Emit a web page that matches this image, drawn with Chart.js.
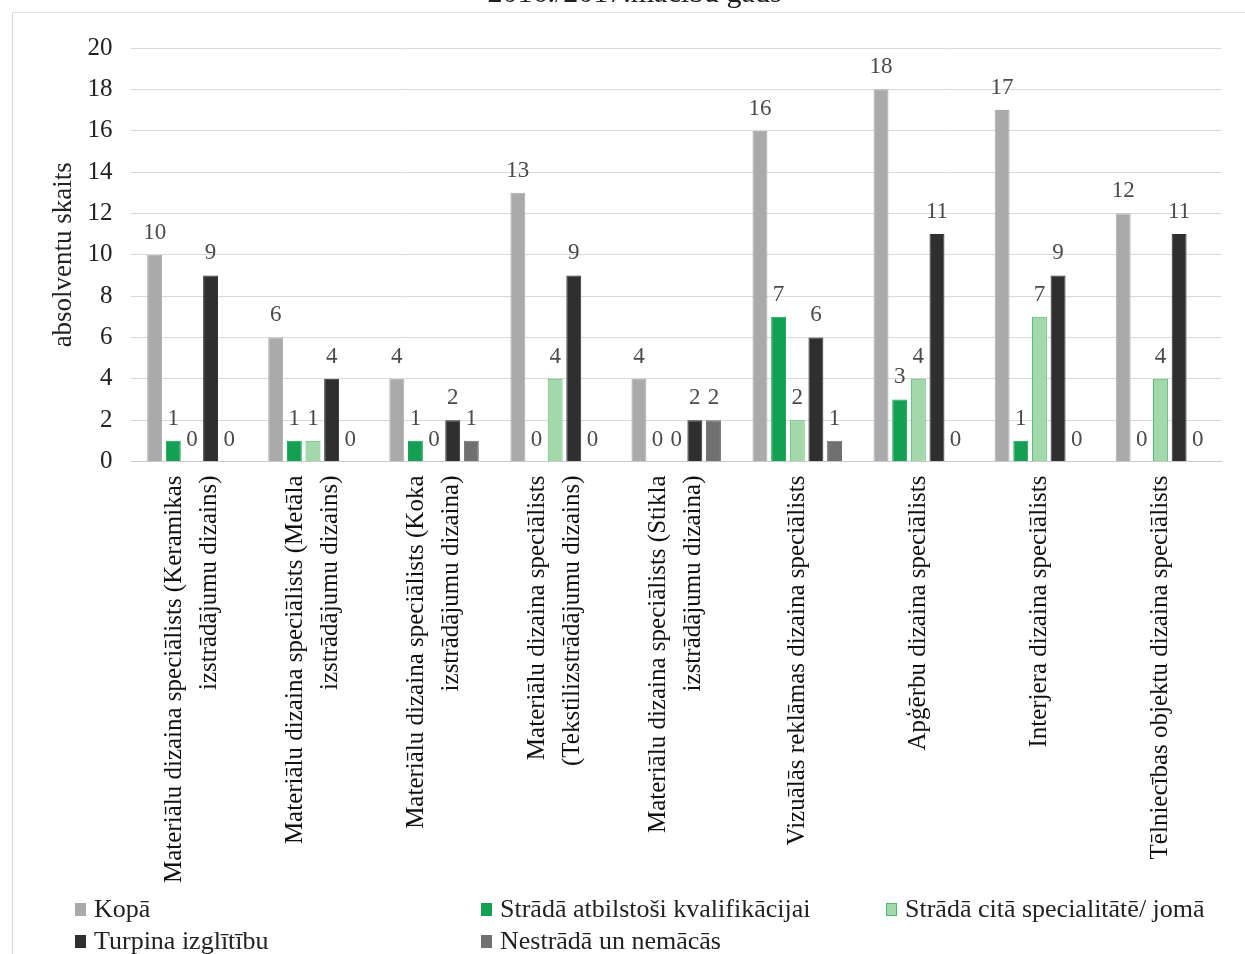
<!DOCTYPE html>
<html>
<head>
<meta charset="utf-8">
<script src="https://cdn.jsdelivr.net/npm/chart.js@4.4.0/dist/chart.umd.min.js"></script>
<style>
  html, body { margin: 0; padding: 0; background: #fff; overflow: hidden; }
  body { width: 1245px; height: 954px; position: relative; }
  #frame { position: absolute; left: 12px; top: 12px; right: 0; bottom: 0;
           border-left: 1px solid #d6d6d6; border-top: 1px solid #e2e2e2; }
  #wrap { position: absolute; left: 0; top: -24px; width: 1245px; height: 978px; }
  #legend { position: absolute; left: 75px; top: 893px; display: grid;
            grid-template-columns: 406px 405px auto; grid-auto-rows: 32px;
            font-family: 'Liberation Serif', 'Times New Roman', serif; font-size: 26px; color: #222; }
  #legend div { display: flex; align-items: center; white-space: nowrap; }
  #legend span.box { display: inline-block; width: 11px; height: 13px; margin-right: 8px; box-sizing: border-box; }
</style>
</head>
<body>
<div id="frame"></div>
<div id="wrap"><canvas id="gradChart"></canvas></div>
<div id="legend"></div>
<script>
const categories = [
    ["Materiālu dizaina speciālists (Keramikas", "izstrādājumu dizains)"],
    ["Materiālu dizaina speciālists (Metāla", "izstrādājumu dizains)"],
    ["Materiālu dizaina speciālists (Koka", "izstrādājumu dizaina)"],
    ["Materiālu dizaina speciālists", "(Tekstilizstrādājumu dizains)"],
    ["Materiālu dizaina speciālists (Stikla", "izstrādājumu dizaina)"],
    "Vizuālās reklāmas dizaina speciālists",
    "Apģērbu dizaina speciālists",
    "Interjera dizaina speciālists",
    "Tēlniecības objektu dizaina speciālists"
];
const kopa = [10, 6, 4, 13, 4, 16, 18, 17, 12];
const stradaAtbilstosi = [1, 1, 1, 0, 0, 7, 3, 1, 0];
const stradaCita = [0, 1, 0, 4, 0, 2, 4, 7, 4];
const turpinaIzglitibu = [9, 4, 2, 9, 2, 6, 11, 9, 11];
const nestrada = [0, 0, 1, 0, 2, 1, 0, 0, 0];
const yTicks = [0, 2, 4, 6, 8, 10, 12, 14, 16, 18, 20];

const serif = "'Liberation Serif', 'Times New Roman', serif";

const series = [
    { label: "Kopā", data: kopa, color: "#aaaaaa", border: "#aaaaaa" },
    { label: "Strādā atbilstoši kvalifikācijai", data: stradaAtbilstosi, color: "#14a052", border: "#14a052" },
    { label: "Strādā citā specialitātē/ jomā", data: stradaCita, color: "#a2d8aa", border: "#4fb86e" },
    { label: "Turpina izglītību", data: turpinaIzglitibu, color: "#2f2f2f", border: "#2f2f2f" },
    { label: "Nestrādā un nemācās", data: nestrada, color: "#707070", border: "#707070" }
];

// value labels above every bar
const valueLabels = {
    id: "valueLabels",
    afterDatasetsDraw(chart) {
        const ctx = chart.ctx;
        ctx.save();
        ctx.font = "23px " + serif;
        ctx.fillStyle = "#4a4a4a";
        ctx.textAlign = "center";
        ctx.textBaseline = "alphabetic";
        chart.data.datasets.forEach((ds, i) => {
            chart.getDatasetMeta(i).data.forEach((bar, j) => {
                ctx.fillText(ds.data[j], bar.x, bar.y - 16);
            });
        });
        ctx.restore();
    }
};

// centre two-line rotated category labels on their tick
const centreLabels = {
    id: "centreLabels",
    beforeDraw(chart) {
        const items = chart.scales.x.getLabelItems();
        if (items._centred) return;
        items.forEach(it => {
            if (Array.isArray(it.label) && it.label.length > 1) {
                it.options.translation[0] -= it.font.lineHeight * (it.label.length - 1) / 2;
            }
        });
        items._centred = true;
    }
};

let ctx = document.getElementById("gradChart").getContext("2d");
new Chart(ctx, {
    type: "bar",
    data: {
        labels: categories,
        datasets: series.map(s => ({
            label: s.label,
            data: s.data,
            backgroundColor: s.color,
            borderColor: s.border,
            borderWidth: 1,
            categoryPercentage: 0.77,
            barPercentage: 0.8
        }))
    },
    options: {
        responsive: true,
        maintainAspectRatio: false,
        animation: false,
        layout: { padding: { left: 48, right: 24, top: 0, bottom: 57 } },
        plugins: {
            legend: { display: false },
            tooltip: { enabled: false },
            title: {
                display: true,
                text: "2016./2017.mācību gads",
                color: "#222",
                font: { family: serif, size: 30, weight: "normal" },
                padding: { top: 0, bottom: 36 }
            }
        },
        scales: {
            x: {
                grid: { display: false, drawTicks: false },
                border: { display: true, color: "#c8c8c8" },
                ticks: {
                    autoSkip: false,
                    minRotation: 90,
                    maxRotation: 90,
                    padding: 14,
                    color: "#111",
                    font: { family: serif, size: 25, lineHeight: 1.4 }
                }
            },
            y: {
                min: 0,
                max: 20,
                afterBuildTicks: axis => { axis.ticks = yTicks.map(v => ({ value: v })); },
                grid: { color: "#d9d9d9", drawTicks: false },
                border: { display: false },
                title: {
                    display: true,
                    text: "absolventu skaits",
                    color: "#222",
                    font: { family: serif, size: 27 },
                    padding: { top: 0, bottom: -12 }
                },
                ticks: {
                    padding: 19,
                    color: "#222",
                    font: { family: serif, size: 25 }
                }
            }
        }
    },
    plugins: [valueLabels, centreLabels]
});

const legend = document.getElementById("legend");
series.forEach(s => {
    const item = document.createElement("div");
    const box = document.createElement("span");
    box.className = "box";
    box.style.background = s.color;
    box.style.border = "1px solid " + s.border;
    item.appendChild(box);
    item.appendChild(document.createTextNode(s.label));
    legend.appendChild(item);
});
</script>
</body>
</html>
